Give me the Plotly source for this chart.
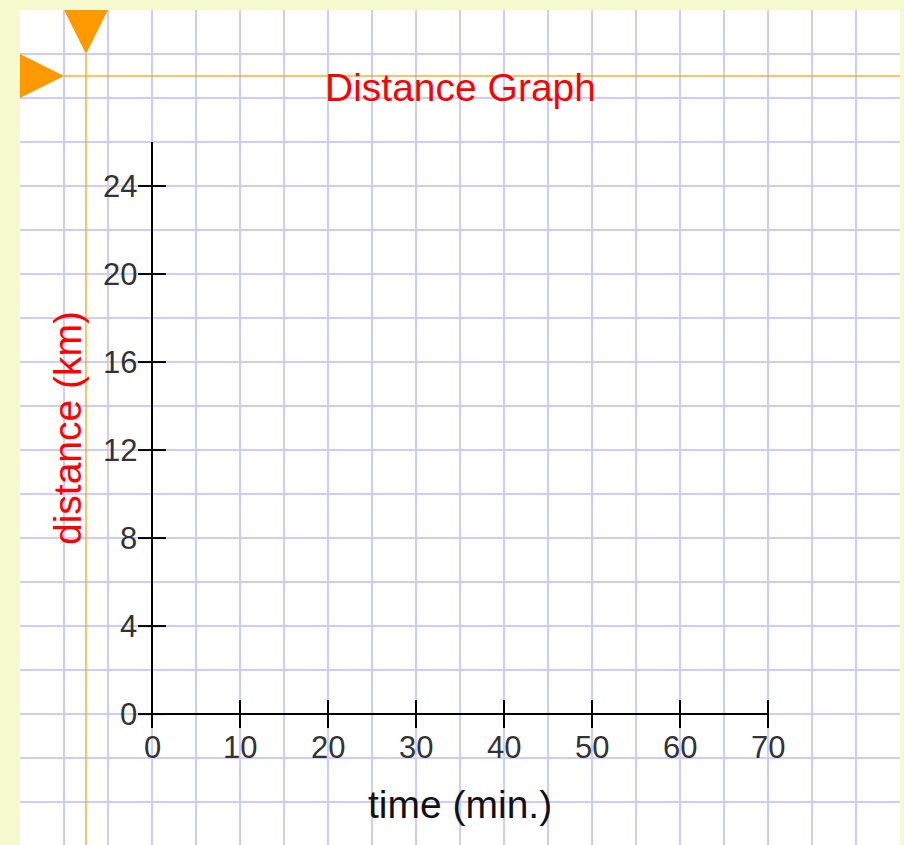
import plotly.graph_objects as go

# ---- data ----
x_ticks = [0, 10, 20, 30, 40, 50, 60, 70]
y_ticks = [0, 4, 8, 12, 16, 20, 24]
x_axis_end = 70
y_axis_end = 26
x_range = [-15, 85]
y_range = [-5.95, 32]
guide_x = -7.5
guide_y = 29
title_text = "Distance Graph"
x_label = "time (min.)"
y_label = "distance (km)"

FONT = "Liberation Sans, Arial, sans-serif"
ORANGE = "#FF9900"
GUIDE = "rgba(255,153,0,0.6)"
GRID = "#CCCCFF"

fig = go.Figure()

# guide lines
fig.add_shape(type="line", xref="x", yref="y", x0=guide_x, x1=guide_x,
              y0=y_range[0], y1=y_range[1] - 2, line=dict(color=GUIDE, width=2), layer="above")
fig.add_shape(type="line", xref="x", yref="y", x0=x_range[0] + 5, x1=x_range[1],
              y0=guide_y, y1=guide_y, line=dict(color=GUIDE, width=2), layer="above")

# triangles (handles)
fig.add_trace(go.Scatter(x=[guide_x - 2.5, guide_x + 2.5, guide_x, guide_x - 2.5],
                         y=[y_range[1], y_range[1], y_range[1] - 2, y_range[1]],
                         fill="toself", fillcolor=ORANGE, mode="lines",
                         line=dict(width=0, color=ORANGE), hoverinfo="skip", showlegend=False))
fig.add_trace(go.Scatter(x=[x_range[0], x_range[0], x_range[0] + 5, x_range[0]],
                         y=[guide_y + 1, guide_y - 1, guide_y, guide_y + 1],
                         fill="toself", fillcolor=ORANGE, mode="lines",
                         line=dict(width=0, color=ORANGE), hoverinfo="skip", showlegend=False))

# axis lines
fig.add_trace(go.Scatter(x=[0, 0, x_axis_end], y=[y_axis_end, 0, 0], mode="lines",
                         line=dict(color="black", width=2), hoverinfo="skip", showlegend=False))
# ticks
fig.add_trace(go.Scatter(x=[0] * len(y_ticks), y=y_ticks, mode="markers",
                         marker=dict(symbol="line-ew", size=20, line=dict(color="black", width=2)),
                         hoverinfo="skip", showlegend=False))
fig.add_trace(go.Scatter(x=x_ticks, y=[0] * len(x_ticks), mode="markers",
                         marker=dict(symbol="line-ns", size=20, line=dict(color="black", width=2)),
                         hoverinfo="skip", showlegend=False))

annotations = []
for v in y_ticks:
    annotations.append(dict(x=0, y=v, xref="x", yref="y", text=str(v), showarrow=False,
                            xanchor="right", yanchor="middle", xshift=-13,
                            font=dict(family=FONT, size=31, color="#333333")))
for v in x_ticks:
    annotations.append(dict(x=v, y=0, xref="x", yref="y", text=str(v), showarrow=False,
                            xanchor="center", yanchor="middle", yshift=-33,
                            font=dict(family=FONT, size=31, color="#333333")))
annotations.append(dict(x=x_axis_end / 2, y=28.5, xref="x", yref="y", text=title_text,
                        showarrow=False, xanchor="center", yanchor="middle",
                        font=dict(family=FONT, size=39, color="#FF0000")))
annotations.append(dict(x=x_axis_end / 2, y=-4.1, xref="x", yref="y", text=x_label,
                        showarrow=False, xanchor="center", yanchor="middle",
                        font=dict(family=FONT, size=39, color="#111111")))
annotations.append(dict(x=-9.66, y=y_axis_end / 2, xref="x", yref="y", text=y_label,
                        showarrow=False, xanchor="center", yanchor="middle", textangle=-90,
                        font=dict(family=FONT, size=39, color="#FF0000")))

fig.update_layout(
    width=904, height=845,
    margin=dict(l=20, r=4, t=10, b=0),
    paper_bgcolor="#F4F9CE", plot_bgcolor="white",
    annotations=annotations,
    xaxis=dict(range=x_range, tick0=0, dtick=5, showgrid=True, gridcolor=GRID, gridwidth=2,
               zeroline=False, showticklabels=False, ticks="", showline=False, fixedrange=True),
    yaxis=dict(range=y_range, tick0=0, dtick=2, showgrid=True, gridcolor=GRID, gridwidth=2,
               zeroline=False, showticklabels=False, ticks="", showline=False, fixedrange=True),
)

fig.write_html("out.html", config={"displayModeBar": False},
               post_script="document.body.style.margin='0';document.body.style.overflow='hidden';")
